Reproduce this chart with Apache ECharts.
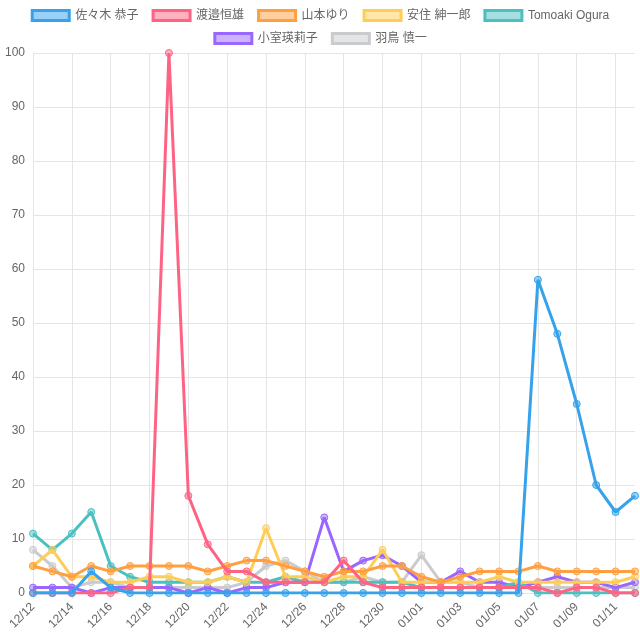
<!DOCTYPE html>
<html>
<head>
<meta charset="utf-8">
<script src="https://cdn.jsdelivr.net/npm/echarts@6/dist/echarts.min.js"></script>
<style>html,body{margin:0;padding:0;background:#fff}#c{width:640px;height:640px}</style>
</head>
<body>
<div id="c"></div>
<script>
const categories = ['12/12','12/13','12/14','12/15','12/16','12/17','12/18','12/19','12/20','12/21','12/22','12/23','12/24','12/25','12/26','12/27','12/28','12/29','12/30','12/31','01/01','01/02','01/03','01/04','01/05','01/06','01/07','01/08','01/09','01/10','01/11','01/12'];
const seriesNames = ['佐々木 恭子','渡邉恒雄','山本ゆり','安住 紳一郎','Tomoaki Ogura','小室瑛莉子','羽鳥 慎一'];
const sasaki = [0,0,0,4,1,0,0,0,0,0,0,0,0,0,0,0,0,0,0,0,0,0,0,0,0,0,58,48,35,20,15,18];
const watanabe = [0,0,0,0,0,1,1,100,18,9,4,4,2,2,2,2,6,2,1,1,1,1,1,1,1,1,1,0,1,1,0,0];
const yamamoto = [5,4,3,5,4,5,5,5,5,4,5,6,6,5,4,3,4,4,5,5,3,2,3,4,4,4,5,4,4,4,4,4];
const azumi = [5,8,3,3,2,2,3,3,2,2,3,2,12,3,3,2,3,3,8,2,2,2,2,2,3,2,2,2,2,2,2,3];
const ogura = [11,8,11,15,5,3,2,2,2,2,3,2,2,3,2,2,2,2,2,2,1,1,1,1,1,2,0,0,0,0,0,0];
const komuro = [1,1,1,0,1,1,1,1,0,1,0,1,1,2,2,14,4,6,7,5,2,2,4,2,2,1,2,3,2,2,1,2];
const hatori = [8,5,1,2,2,1,1,1,1,1,1,2,5,6,4,2,2,3,2,2,7,2,2,1,1,1,1,1,1,1,1,1];
const yTicks = {min: 0, max: 100, interval: 10};

const values = [sasaki, watanabe, yamamoto, azumi, ogura, komuro, hatori];
const colors = ['#36a2eb','#ff6384','#ff9f40','#ffcd56','#4bc0c0','#9966ff','#c9cbcf'];
const fills = ['rgba(54,162,235,0.5)','rgba(255,99,132,0.5)','rgba(255,159,64,0.5)','rgba(255,205,86,0.5)','rgba(75,192,192,0.5)','rgba(153,102,255,0.5)','rgba(201,203,207,0.5)'];
const font = '"Liberation Sans", "Noto Sans CJK JP", sans-serif';

function legendRow(names, top) {
  return {
    top: top, left: 'center', padding: 0,
    itemWidth: 37, itemHeight: 10, itemGap: 13,
    icon: 'rect',
    itemStyle: {borderWidth: 3},
    textStyle: {color: '#666', fontSize: 12, fontFamily: font, padding: [0, 0, 0, 1]},
    data: names
  };
}

const chart = echarts.init(document.getElementById('c'), null, {renderer: 'canvas'});
chart.setOption({
  animation: false,
  textStyle: {fontFamily: font},
  legend: [legendRow(seriesNames.slice(0, 5), 9), legendRow(seriesNames.slice(5), 32)],
  grid: {left: 33, right: 5, top: 53, bottom: 47, containLabel: false},
  xAxis: {
    type: 'category', data: categories, boundaryGap: false,
    axisLine: {show: true, lineStyle: {color: '#e5e5e5'}},
    axisTick: {show: true, interval: 1, length: 6, lineStyle: {color: '#e5e5e5'}},
    axisLabel: {interval: 1, rotate: 45, color: '#666', fontSize: 12, margin: 12, fontFamily: font},
    splitLine: {show: true, interval: 1, lineStyle: {color: '#e5e5e5'}}
  },
  yAxis: {
    type: 'value', min: yTicks.min, max: yTicks.max, interval: yTicks.interval,
    axisLine: {show: true, lineStyle: {color: '#e5e5e5'}},
    axisTick: {show: false},
    axisLabel: {color: '#666', fontSize: 12, margin: 8, fontFamily: font},
    splitLine: {show: true, lineStyle: {color: '#e5e5e5'}}
  },
  series: seriesNames.map((n, i) => ({
    name: n, type: 'line', data: values[i],
    z: 20 - i,
    symbol: 'circle', symbolSize: 7, showSymbol: true,
    lineStyle: {color: colors[i], width: 3},
    itemStyle: {color: fills[i], borderColor: colors[i], borderWidth: 1},
    emphasis: {disabled: true}
  }))
});
</script>
</body>
</html>
